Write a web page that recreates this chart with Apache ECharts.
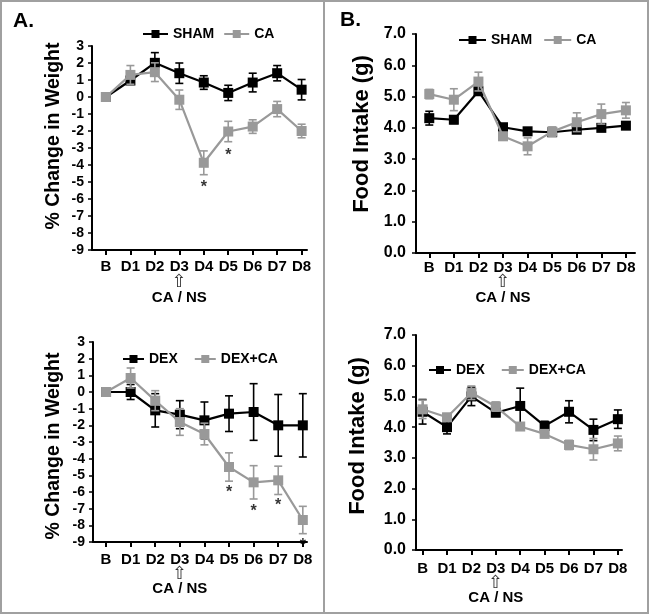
<!DOCTYPE html>
<html><head><meta charset="utf-8">
<script src="https://cdn.jsdelivr.net/npm/echarts@6/dist/echarts.min.js"></script>
<style>html,body{margin:0;padding:0;background:#fff}#c{width:649px;height:614px}</style>
</head><body><div id="c"></div>
<script>
const categories = ['B','D1','D2','D3','D4','D5','D6','D7','D8'];
const weightTicks = [-9,-8,-7,-6,-5,-4,-3,-2,-1,0,1,2,3];
const foodTicks = [0,1,2,3,4,5,6,7];

// Panel A top: % change in weight
const shamWeight    = [0, 0.97, 2.01, 1.40, 0.85, 0.24, 0.85, 1.40, 0.43];
const shamWeightErr = [0, 0.20, 0.60, 0.60, 0.40, 0.45, 0.55, 0.45, 0.60];
const caWeight      = [0, 1.30, 1.46, -0.16, -3.87, -2.03, -1.74, -0.71, -2.00];
const caWeightErr   = [0, 0.55, 0.55, 0.57, 0.70, 0.60, 0.40, 0.45, 0.40];
const caWeightStars = [[4, -5.1], [5, -3.2]];

// Panel B top: food intake
const shamFood    = [4.31, 4.26, 5.17, 4.02, 3.89, 3.86, 3.94, 4.00, 4.07];
const shamFoodErr = [0.22, 0.12, 0.10, 0.10, 0.06, 0.06, 0.06, 0.06, 0.08];
const caFood      = [5.08, 4.90, 5.48, 3.73, 3.41, 3.88, 4.18, 4.44, 4.56];
const caFoodErr   = [0.15, 0.35, 0.30, 0.12, 0.27, 0.15, 0.30, 0.32, 0.25];

// Panel A bottom: % change in weight (DEX)
const dexWeight      = [0, 0, -1.10, -1.36, -1.70, -1.30, -1.20, -2.00, -2.00];
const dexWeightErr   = [0, 0.45, 1.00, 0.84, 1.10, 1.07, 1.70, 1.85, 1.90];
const dexCaWeight    = [0, 0.84, -0.52, -1.80, -2.52, -4.50, -5.42, -5.30, -7.68];
const dexCaWeightErr = [0, 0.60, 0.60, 0.80, 0.65, 0.85, 1.00, 0.85, 0.82];
const dexCaWeightStars = [[5, -5.82], [6, -6.96], [7, -6.56], [8, -9.0]];

// Panel B bottom: food intake (DEX)
const dexFood      = [4.50, 4.00, 5.00, 4.47, 4.69, 4.04, 4.50, 3.91, 4.26];
const dexFoodErr   = [0.40, 0.22, 0.30, 0.12, 0.58, 0.15, 0.36, 0.35, 0.30];
const dexCaFood    = [4.58, 4.32, 5.12, 4.67, 4.02, 3.78, 3.42, 3.28, 3.47];
const dexCaFoodErr = [0.30, 0.12, 0.22, 0.15, 0.08, 0.10, 0.15, 0.35, 0.24];

const BLACK = '#000000', GRAY = '#999999';
const FONT = 'Liberation Sans, Arial, sans-serif';
const idx = categories.map((c,i)=>i);

const chart = echarts.init(document.getElementById('c'), null, {renderer:'canvas'});

const grids = [
  {left:92,  top:46,  width:215, height:204},
  {left:416, top:34,  width:219, height:219},
  {left:93,  top:342, width:214, height:200},
  {left:416, top:335, width:206, height:215}
];
const xr = [[-0.57, 8.22], [-0.54, 8.37], [-0.53, 8.17], [-0.27, 8.17]];
const xMargins = [[9.5, 15, 17], [7, 14, 17], [10.5, 13, 16], [11, 14, 16]];

function xAxis(i){
  const m = xMargins[i];
  return {
    type:'value', gridIndex:i, min:xr[i][0], max:xr[i][1],
    splitLine:{show:false},
    axisLine:{show:true, onZero:false, lineStyle:{color:BLACK, width:2}},
    axisTick:{show:true, customValues:idx, length:5, lineStyle:{color:BLACK, width:2}},
    axisLabel:{show:true, customValues:idx, margin:m[0],
      formatter:(v)=>{
        const c = categories[Math.round(v)];
        if (Math.round(v) === 3) return '{d|' + c + '}\n{a|⇧}\n{n|CA / NS}';
        return '{d|' + c + '}';
      },
      rich:{
        d:{fontFamily:FONT, fontWeight:'bold', fontSize:15, color:BLACK, lineHeight:15},
        a:{fontFamily:'DejaVu Sans', fontSize:18, color:'#333', lineHeight:m[1]},
        n:{fontFamily:FONT, fontWeight:'bold', fontSize:15, color:BLACK, lineHeight:m[2]}
      }
    }
  };
}
function yAxis(i, weight){
  return {
    type:'value', gridIndex:i,
    min: weight ? weightTicks[0] : foodTicks[0],
    max: weight ? weightTicks[weightTicks.length-1] : foodTicks[foodTicks.length-1],
    interval:1,
    splitLine:{show:false},
    axisLine:{show:true, onZero:false, lineStyle:{color:BLACK, width:2}},
    axisTick:{show:true, length:4, lineStyle:{color:BLACK, width:1.5}},
    axisLabel:{margin: weight ? 8 : 10, fontFamily:FONT, fontWeight:'bold',
      fontSize: weight ? 14 : 16, color:BLACK,
      formatter: weight ? (v)=>String(v) : (v)=>v.toFixed(1)}
  };
}

function errSeries(i, vals, errs, color, z){
  return {
    type:'custom', xAxisIndex:i, yAxisIndex:i, silent:true, z:z,
    data: vals.map((v,k)=>[k, v-errs[k], v+errs[k]]),
    renderItem:(params, api)=>{
      const x = api.value(0);
      const lo = api.coord([x, api.value(1)]);
      const hi = api.coord([x, api.value(2)]);
      const w = 4;
      const st = {stroke:color, lineWidth:1.6};
      return {type:'group', children:[
        {type:'line', shape:{x1:lo[0], y1:lo[1], x2:hi[0], y2:hi[1]}, style:st},
        {type:'line', shape:{x1:lo[0]-w, y1:lo[1], x2:lo[0]+w, y2:lo[1]}, style:st},
        {type:'line', shape:{x1:hi[0]-w, y1:hi[1], x2:hi[0]+w, y2:hi[1]}, style:st}
      ]};
    }
  };
}
function lineSeries(i, name, vals, color, z){
  return {
    type:'line', name:name, xAxisIndex:i, yAxisIndex:i, z:z,
    data: vals.map((v,k)=>[k, v]),
    symbol:'rect', symbolSize:10, showSymbol:true,
    lineStyle:{color:color, width:2.2},
    itemStyle:{color:color, borderWidth:0},
    emphasis:{disabled:true}, animation:false
  };
}
function starSeries(i, pts){
  return {
    type:'scatter', xAxisIndex:i, yAxisIndex:i, z:10, silent:true,
    data: pts, symbolSize:1, itemStyle:{color:'rgba(0,0,0,0)'},
    label:{show:true, position:'inside', formatter:'*', offset:[0,4],
      fontFamily:FONT, fontWeight:'bold', fontSize:16, color:BLACK},
    animation:false
  };
}

const legendBase = {
  orient:'horizontal', itemHeight:10, padding:0,
  textStyle:{fontFamily:FONT, fontWeight:'bold', fontSize:14, color:BLACK}, selectedMode:false
};

const titleStyle = {fontFamily:FONT, fontWeight:'bold', fill:BLACK, align:'center', verticalAlign:'middle'};
function ytitle(text, x, y, size){
  return {type:'text', x:x, y:y, rotation:Math.PI/2,
    style:Object.assign({text:text, fontSize:size}, titleStyle)};
}

chart.setOption({
  animation:false,
  backgroundColor:'#ffffff',
  grid: grids.map(g=>Object.assign({containLabel:false}, g)),
  xAxis:[xAxis(0), xAxis(1), xAxis(2), xAxis(3)],
  yAxis:[yAxis(0,true), yAxis(1,false), yAxis(2,true), yAxis(3,false)],
  legend:[
    Object.assign({}, legendBase, {data:['SHAM','CA'], left:142, top:27, itemWidth:25, itemGap:9}),
    Object.assign({}, legendBase, {data:['SHAM','CA'], left:458, top:33, itemWidth:27, itemGap:11}),
    Object.assign({}, legendBase, {data:['DEX','DEX+CA'], left:122, top:352, itemWidth:21, itemGap:16}),
    Object.assign({}, legendBase, {data:['DEX','DEX+CA'], left:428, top:363, itemWidth:22, itemGap:16})
  ],
  series:[
    errSeries(0, shamWeight, shamWeightErr, BLACK, 2),
    lineSeries(0, 'SHAM', shamWeight, BLACK, 3),
    errSeries(0, caWeight, caWeightErr, GRAY, 4),
    lineSeries(0, 'CA', caWeight, GRAY, 5),
    starSeries(0, caWeightStars),

    errSeries(1, shamFood, shamFoodErr, BLACK, 2),
    lineSeries(1, 'SHAM', shamFood, BLACK, 3),
    errSeries(1, caFood, caFoodErr, GRAY, 4),
    lineSeries(1, 'CA', caFood, GRAY, 5),

    errSeries(2, dexWeight, dexWeightErr, BLACK, 2),
    lineSeries(2, 'DEX', dexWeight, BLACK, 3),
    errSeries(2, dexCaWeight, dexCaWeightErr, GRAY, 4),
    lineSeries(2, 'DEX+CA', dexCaWeight, GRAY, 5),
    starSeries(2, dexCaWeightStars),

    errSeries(3, dexFood, dexFoodErr, BLACK, 2),
    lineSeries(3, 'DEX', dexFood, BLACK, 3),
    errSeries(3, dexCaFood, dexCaFoodErr, GRAY, 4),
    lineSeries(3, 'DEX+CA', dexCaFood, GRAY, 5)
  ],
  graphic:[
    {type:'rect', shape:{x:1, y:1, width:647, height:612}, style:{fill:'none', stroke:'#a0a0a0', lineWidth:2}, silent:true},
    {type:'line', shape:{x1:324, y1:1, x2:324, y2:613}, style:{stroke:'#a0a0a0', lineWidth:2}, silent:true},
    {type:'text', x:13, y:21, style:{text:'A.', fontFamily:FONT, fontWeight:'bold', fontSize:21, fill:BLACK, verticalAlign:'middle'}},
    {type:'text', x:340, y:20, style:{text:'B.', fontFamily:FONT, fontWeight:'bold', fontSize:21, fill:BLACK, verticalAlign:'middle'}},
    ytitle('% Change in Weight', 54, 136, 19.5),
    ytitle('Food Intake (g)', 362, 134, 22),
    ytitle('% Change in Weight', 54, 446, 19.5),
    ytitle('Food Intake (g)', 358, 436, 22)
  ]
});
</script></body></html>
